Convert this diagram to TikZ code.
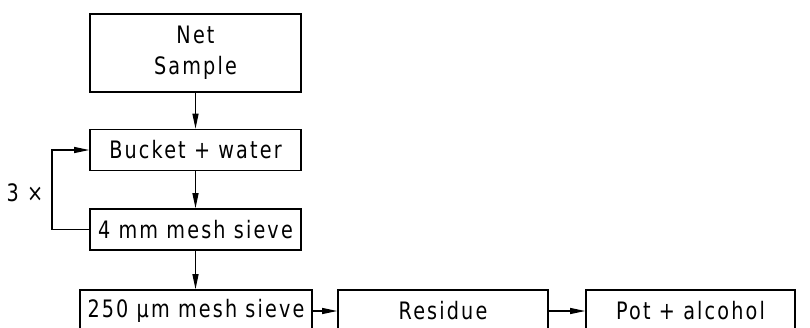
\documentclass[tikz,border=0pt]{standalone}
\usepackage{fontspec}
\setmainfont[LetterSpace=9, FakeStretch=0.8]{DejaVu Sans}
\usetikzlibrary{arrows.meta}
\begin{document}
\begin{tikzpicture}[x=1pt,y=-1pt,
  font=\fontsize{24}{31}\selectfont,
  stepbox/.style={draw, line width=1.6pt, inner sep=0pt, align=center},
  conn/.style={line width=1.2pt, -{Triangle[length=15pt,width=6pt]}}]
  \useasboundingbox (0,0) rectangle (810,327);
  \clip (0,0) rectangle (810,327);

  % main column
  \node[stepbox, minimum width=211pt, minimum height=78pt] (net) at (195.5,53) {Net\\Sample};
  \node[stepbox, minimum width=211pt, minimum height=41pt] (bucket) at (195.5,150) {Bucket + water};
  \node[stepbox, minimum width=211pt, minimum height=41pt] (sieve4) at (195.5,229.5) {4 mm mesh sieve};

  % bottom row
  \node[stepbox, minimum width=232pt, minimum height=42pt] (sieve250) at (196,311) {250 µm mesh sieve};
  \node[stepbox, minimum width=210pt, minimum height=42pt] (residue) at (443,311) {Residue};
  \node[stepbox, minimum width=209pt, minimum height=42pt] (pot) at (690.5,311) {Pot + alcohol};

  % flow
  \draw[conn] (net) -- (bucket);
  \draw[conn] (bucket) -- (sieve4);
  \draw[conn] (sieve4.south) -- (sieve4.south |- sieve250.north);
  \draw[conn] (sieve250) -- (residue);
  \draw[conn] (residue) -- (pot);

  % repeat loop
  \coordinate (loop) at (52,150);
  \draw[conn] (sieve4.west) -| (loop) -- (bucket.west);
  \node (times) at (25,193) {3 ×};
\end{tikzpicture}
\end{document}
